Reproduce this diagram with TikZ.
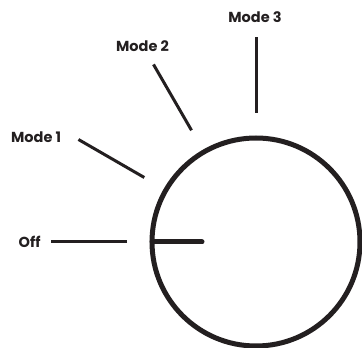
\documentclass[tikz,border=0pt]{standalone}
\usepackage{fontspec}
\setmainfont{Poppins}
\usetikzlibrary{positioning}
\definecolor{ink}{HTML}{231F20}

\begin{document}
\begin{tikzpicture}[x=1pt,y=1pt,line width=3pt,draw=ink,
    lbl/.style={inner sep=0pt,text=ink,font=\bfseries\fontsize{14.5}{17}\selectfont}]
    \useasboundingbox (0,0) rectangle (362,348);
    \coordinate (c) at (256,106);

    % dial and pointer
    \draw[line width=5pt] (c) circle (104);
    \path (c) ++(180:104) coordinate (ptr-a);
    \path (c) ++(180:54) coordinate (ptr-b);
    \draw[line width=5pt,line cap=round] (ptr-a) -- (ptr-b);

    % ticks
    \foreach \a/\n in {180/off,150/m1,120/m2,90/m3} {
        \path (c) ++(\a:129) coordinate (\n-in);
        \path (c) ++(\a:205) coordinate (\n-out);
        \draw (\n-in) -- (\n-out);
    }

    \node[lbl] (off) [left=9 of off-out] {Off};
    \node[lbl] (mode1) [left=16 of m1-out,yshift=2] {Mode 1};
    \node[lbl] (mode2) [above=11 of m2-out,xshift=-11] {Mode 2};
    \node[lbl] (mode3) [above=13 of m3-out,xshift=-1] {Mode 3};
\end{tikzpicture}
\end{document}
